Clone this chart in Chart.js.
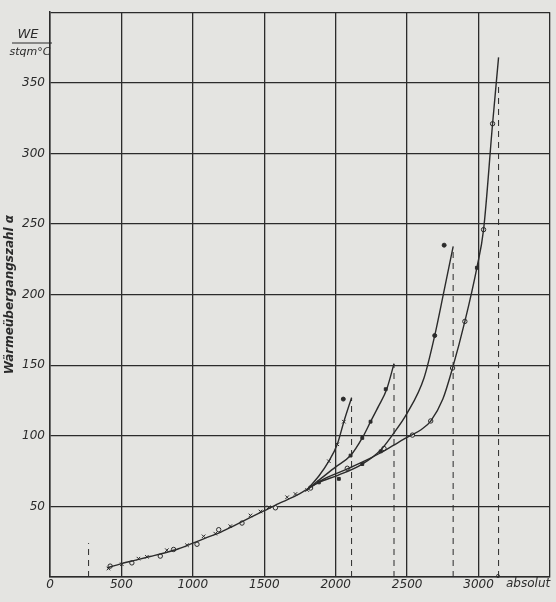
<!DOCTYPE html>
<html>
<head>
<meta charset="utf-8">
<script src="https://cdn.jsdelivr.net/npm/chart.js@4/dist/chart.umd.min.js"></script>
<style>
  html, body { margin: 0; padding: 0; background: #e4e4e1; }
  canvas { display: block; }
</style>
</head>
<body>
<canvas id="chart" width="556" height="602"></canvas>
<script>
// Achsen
const xTicks = [0, 500, 1000, 1500, 2000, 2500, 3000, 3500];
const yTicks = [0, 50, 100, 150, 200, 250, 300, 350, 400];

// gemeinsamer Ast der Kurven (Temperatur in ° absolut, α in WE/stqm°C)
const trunkT = [400, 500, 600, 700, 800, 900, 1000, 1100, 1200, 1300, 1400, 1500, 1600, 1700, 1800];
const trunkA = [6.5, 9.5, 12, 14.5, 17, 20, 24, 28, 32, 37, 42, 47, 52, 56.5, 62];

// Äste
const branch1T = [1800, 1882, 1952, 2011, 2057, 2111];
const branch1A = [62, 71.5, 82, 94, 110, 127];
const branch2T = [1800, 1900, 2000, 2104, 2186, 2244, 2300, 2357, 2408];
const branch2A = [62, 70, 78, 86, 98.5, 110, 121, 133, 151];
const branch3T = [1800, 1882, 2015, 2186, 2315, 2400, 2500, 2618, 2693, 2759, 2822];
const branch3A = [62, 67, 72, 80, 90, 101, 116, 141, 171, 203, 234];
const branch4T = [1800, 1900, 2081, 2200, 2315, 2400, 2502, 2600, 2665, 2750, 2818, 2904, 2988, 3035, 3098, 3140];
const branch4A = [62, 68.5, 76.5, 82, 88, 93, 99, 104.5, 110.4, 126, 148, 181, 219, 246, 321, 368];

// Messpunkte
const crossT = [409, 503, 619, 678, 818, 959, 1075, 1157, 1262, 1403, 1473, 1531, 1660, 1718, 1800, 1952, 2011, 2057];
const crossA = [6, 9, 13, 14.3, 19, 22.5, 28.8, 30.7, 36, 43.6, 46.4, 49.4, 56.5, 58.8, 61.6, 82, 94, 110];
const circleT = [421, 573, 772, 865, 1029, 1181, 1344, 1578, 1824, 2081, 2338, 2537, 2665, 2818, 2904, 3035, 3098];
const circleA = [7.7, 10, 14.8, 19.5, 23.2, 33.5, 38.2, 49, 63, 77, 91, 100.5, 110.5, 148, 181, 246, 321];
const squareT = [2104, 2186, 2244, 2350, 1882, 2186, 2315, 2022, 2988];
const squareA = [86, 98.5, 110, 133, 67, 80, 89, 69.5, 219];
const dotT = [2053, 2693, 2759];
const dotA = [126, 171, 235];

// Grenztemperaturen (gestrichelt)
const limitT = [270, 2111, 2408, 2822, 3140];
const limitA = [24, 127, 151, 234, 350];

const ink = '#2b2b2b';
const paper = '#e4e4e1';

const pts = (xs, ys) => xs.map((x, i) => ({ x: x, y: ys[i] }));

function curve(xs, ys) {
    return {
        data: pts(xs, ys),
        borderColor: ink,
        borderWidth: 1.4,
        pointRadius: 0,
        cubicInterpolationMode: 'monotone',
        fill: false
    };
}

function marks(xs, ys, style, radius, filled) {
    return {
        data: pts(xs, ys),
        showLine: false,
        pointStyle: style,
        pointRadius: radius,
        pointBorderColor: ink,
        pointBorderWidth: 1,
        pointBackgroundColor: filled ? ink : paper
    };
}

const datasets = [
    curve(trunkT, trunkA),
    curve(branch1T, branch1A),
    curve(branch2T, branch2A),
    curve(branch3T, branch3A),
    curve(branch4T, branch4A),
    marks(crossT, crossA, 'crossRot', 2.5, false),
    marks(circleT, circleA, 'circle', 2.2, false),
    marks(squareT, squareA, 'rect', 2, true),
    marks(dotT, dotA, 'circle', 2, true)
];

limitT.forEach((t, i) => {
    datasets.push({
        data: [{ x: t, y: 0 }, { x: t, y: limitA[i] }],
        borderColor: ink,
        borderWidth: 1,
        borderDash: [6, 5],
        pointRadius: 0
    });
});

const paperPlugin = {
    id: 'paper',
    beforeDraw(chart) {
        const ctx = chart.ctx;
        ctx.save();
        ctx.fillStyle = paper;
        ctx.fillRect(0, 0, chart.width, chart.height);
        ctx.restore();
    },
    afterDraw(chart) {
        const ctx = chart.ctx;
        ctx.save();
        ctx.fillStyle = ink;
        ctx.strokeStyle = ink;
        ctx.textAlign = 'center';
        ctx.textBaseline = 'middle';
        // Einheit
        ctx.font = 'italic 13px "DejaVu Sans"';
        ctx.fillText('WE', 28, 35);
        ctx.lineWidth = 1;
        ctx.beginPath();
        ctx.moveTo(12, 43);
        ctx.lineTo(52, 43);
        ctx.stroke();
        ctx.font = 'italic 11px "DejaVu Sans"';
        ctx.fillText('stqm°C', 30, 52);
        // Achsenbeschriftung rechts unten
        ctx.textAlign = 'left';
        ctx.font = 'italic 12px "DejaVu Sans"';
        ctx.fillText('°', 495, 580);
        ctx.fillText('absolut', 506, 584);
        ctx.restore();
    }
};

new Chart(document.getElementById('chart'), {
    type: 'line',
    data: { datasets: datasets },
    plugins: [paperPlugin],
    options: {
        responsive: false,
        animation: false,
        layout: { padding: { top: 8, right: 6, left: 0, bottom: 0 } },
        plugins: {
            legend: { display: false },
            tooltip: { enabled: false }
        },
        scales: {
            x: {
                type: 'linear',
                min: xTicks[0],
                max: xTicks[xTicks.length - 1],
                afterBuildTicks: s => { s.ticks = xTicks.map(v => ({ value: v })); },
                afterFit: s => { s.height = 25; },
                ticks: {
                    autoSkip: false,
                    maxRotation: 0,
                    padding: 1,
                    color: ink,
                    font: { family: '"DejaVu Sans"', style: 'italic', size: 12 },
                    callback: v => (v === 3500 ? '' : String(v))
                },
                grid: { color: ink, lineWidth: 1.3, drawTicks: false },
                border: { color: ink, width: 1.5 }
            },
            y: {
                min: yTicks[0],
                max: yTicks[yTicks.length - 1],
                afterBuildTicks: s => { s.ticks = yTicks.map(v => ({ value: v })); },
                afterFit: s => { s.width = 50; },
                ticks: {
                    padding: 5,
                    color: ink,
                    font: { family: '"DejaVu Sans"', style: 'italic', size: 12 },
                    callback: v => (v === 0 || v === 400 ? '' : String(v))
                },
                grid: { color: ink, lineWidth: 1.3, drawTicks: false },
                border: { color: ink, width: 1.5 },
                title: {
                    display: true,
                    text: 'Wärmeübergangszahl α',
                    color: ink,
                    padding: { top: 3, bottom: 0 },
                    font: { family: '"DejaVu Sans"', style: 'italic', weight: 'bold', size: 12 }
                }
            }
        }
    }
});
</script>
</body>
</html>
